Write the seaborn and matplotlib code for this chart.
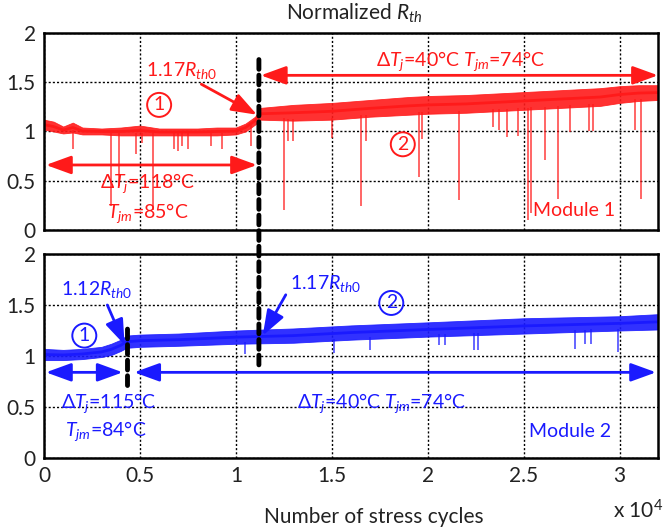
import numpy as np
import pandas as pd
import matplotlib
matplotlib.use('Agg')
import matplotlib.pyplot as plt
from matplotlib.patches import ConnectionPatch
import seaborn as sns

sns.set_theme(style="white")
plt.rcParams['font.family'] = ['Lato', 'DejaVu Sans']
plt.rcParams['mathtext.fontset'] = 'custom'
plt.rcParams['mathtext.rm'] = 'Lato'
plt.rcParams['mathtext.it'] = 'Lato:italic'

# --- Module 1: envelope of the noisy normalized Rth trace ---
m1_cycles = [0, 500, 1000, 1500, 2000, 3000, 4000, 5000, 6000, 7000, 8000, 9000, 10000, 10500, 11000, 11300,
             13000, 15000, 17000, 19000, 20000, 22000, 24000, 25000, 27000, 29000, 30000, 31000, 32000]
m1_low = [1.02, 1.00, 0.98, 0.99, 0.97, 0.97, 0.96, 0.96, 0.96, 0.96, 0.96, 0.96, 0.97, 1.00, 1.07, 1.12,
          1.11, 1.12, 1.15, 1.17, 1.18, 1.19, 1.21, 1.22, 1.24, 1.26, 1.29, 1.31, 1.32]
m1_high = [1.12, 1.10, 1.05, 1.09, 1.04, 1.03, 1.04, 1.06, 1.03, 1.03, 1.03, 1.04, 1.04, 1.08, 1.15, 1.24,
           1.27, 1.29, 1.32, 1.35, 1.36, 1.37, 1.39, 1.40, 1.42, 1.44, 1.46, 1.47, 1.47]
m1_spike_x = [1500, 3500, 3900, 4800, 5100, 5700, 6800, 7000, 7200, 7500, 8700, 9300, 10800,
              12500, 12700, 13000, 15000, 16500, 16800, 19550, 19700, 21650, 23400, 23700, 24150,
              24700, 25250, 25400, 26100, 26800, 27400, 28400, 28600, 30800, 31100]
m1_spike_min = [0.82, 0.24, 0.45, 0.77, 0.88, 0.20, 0.82, 0.80, 0.85, 0.82, 0.85, 0.82, 0.85,
                0.20, 0.90, 0.90, 0.93, 0.24, 0.90, 0.54, 0.92, 0.30, 1.05, 1.02, 0.94,
                0.95, 0.10, 0.17, 0.71, 0.31, 0.99, 1.00, 1.00, 1.02, 0.31]

# --- Module 2 ---
m2_cycles = [0, 1000, 2000, 3000, 3500, 4000, 4300, 5000, 7000, 10000, 13000, 16000, 20000, 25000, 30000, 32000]
m2_low = [0.96, 0.96, 0.97, 0.99, 1.01, 1.05, 1.08, 1.09, 1.10, 1.12, 1.13, 1.16, 1.19, 1.22, 1.25, 1.26]
m2_high = [1.07, 1.06, 1.07, 1.09, 1.12, 1.16, 1.20, 1.21, 1.22, 1.25, 1.27, 1.30, 1.33, 1.37, 1.39, 1.41]
m2_spike_x = [10450, 15100, 17000, 20600, 20900, 22400, 22600, 27700, 28200, 28500, 29900]
m2_spike_min = [1.02, 1.03, 1.06, 1.11, 1.11, 1.06, 1.06, 1.07, 1.12, 1.12, 1.04]

x_ticks = [0, 5000, 10000, 15000, 20000, 25000, 30000]
x_tick_labels = ['0', '0.5', '1', '1.5', '2', '2.5', '3']
y_ticks = [0, 0.5, 1, 1.5, 2]
y_tick_labels = ['0', '0.5', '1', '1.5', '2']

RED = '#ff1a1a'
BLUE = '#1a1aff'

fig = plt.figure(figsize=(6.63, 5.32), dpi=100)
ax1 = fig.add_axes([0.0664, 0.5677, 0.926, 0.3703])
ax2 = fig.add_axes([0.0664, 0.139, 0.926, 0.3836])


def draw_trace(ax, cycles, low, high, spike_x, spike_min, color):
    df = pd.DataFrame({'cycles': cycles + cycles, 'rth': low + high})
    # band = full noise envelope of the measured trace
    sns.lineplot(data=df, x='cycles', y='rth', ax=ax, color=color, errorbar=('pi', 100),
                 err_kws={'alpha': 0.9, 'linewidth': 0.6}, linewidth=2)
    tops = np.interp(spike_x, cycles, low) + 0.02
    ax.vlines(spike_x, spike_min, tops, color=color, lw=1.1, alpha=0.85)


def style_axis(ax, show_x):
    ax.set_xlim(0, 32000)
    ax.set_ylim(0, 2)
    ax.set_xticks(x_ticks)
    ax.set_yticks(y_ticks)
    ax.set_xticklabels(x_tick_labels if show_x else [])
    ax.set_yticklabels(y_tick_labels)
    ax.set_xlabel('')
    ax.set_ylabel('')
    ax.set_axisbelow(True)
    ax.grid(True, color='black', linestyle=(0, (1.5, 1.5)), linewidth=1.0)
    ax.tick_params(length=0, labelsize=15, pad=6, colors='#222222')
    for s in ax.spines.values():
        s.set_color('black')
        s.set_linewidth(1.8)


def double_arrow(ax, x0, x1, y, color):
    ax.annotate('', xy=(x1, y), xytext=(x0, y),
                arrowprops=dict(arrowstyle='<|-|>,head_length=1.1,head_width=0.4', color=color,
                                lw=2, mutation_scale=14, shrinkA=0, shrinkB=0), annotation_clip=False)


def pointer(ax, xy_from, xy_to, color):
    ax.annotate('', xy=xy_to, xytext=xy_from,
                arrowprops=dict(arrowstyle='-|>,head_length=1.1,head_width=0.4', color=color,
                                lw=2, mutation_scale=14, shrinkA=0, shrinkB=0))


def circled(ax, x, y, num, color):
    ax.text(x, y, num, color=color, fontsize=14, ha='center', va='center',
            bbox=dict(boxstyle='circle,pad=0.18', facecolor='none', edgecolor=color, lw=1.4))


draw_trace(ax1, m1_cycles, m1_low, m1_high, m1_spike_x, m1_spike_min, RED)
draw_trace(ax2, m2_cycles, m2_low, m2_high, m2_spike_x, m2_spike_min, BLUE)
style_axis(ax1, False)
style_axis(ax2, True)

fs = 14
# top panel notes
ax1.text(5300, 1.62, '1.17$R_{th0}$', color=RED, fontsize=fs, va='center')
pointer(ax1, (8200, 1.48), (11100, 1.17), RED)
circled(ax1, 6000, 1.27, '1', RED)
circled(ax1, 18700, 0.87, '2', RED)
double_arrow(ax1, 100, 11100, 0.66, RED)
ax1.text(2900, 0.48, 'Δ$T_j$=118°C', color=RED, fontsize=fs, va='center')
ax1.text(3300, 0.17, '$T_{jm}$=85°C', color=RED, fontsize=fs, va='center')
double_arrow(ax1, 11300, 32000, 1.57, RED)
ax1.text(17300, 1.72, 'Δ$T_j$=40°C $T_{jm}$=74°C', color=RED, fontsize=fs, va='center')
ax1.text(25500, 0.2, 'Module 1', color=RED, fontsize=fs, va='center')

# bottom panel notes
ax2.text(900, 1.65, '1.12$R_{th0}$', color=BLUE, fontsize=fs, va='center')
pointer(ax2, (3300, 1.5), (4200, 1.11), BLUE)
circled(ax2, 2100, 1.2, '1', BLUE)
double_arrow(ax2, 100, 4100, 0.84, BLUE)
double_arrow(ax2, 4700, 31900, 0.84, BLUE)
ax2.text(900, 0.54, 'Δ$T_j$=115°C', color=BLUE, fontsize=fs, va='center')
ax2.text(1100, 0.26, '$T_{jm}$=84°C', color=BLUE, fontsize=fs, va='center')
ax2.text(12800, 1.71, '1.17$R_{th0}$', color=BLUE, fontsize=fs, va='center')
pointer(ax2, (12600, 1.6), (11400, 1.2), BLUE)
circled(ax2, 18100, 1.52, '2', BLUE)
ax2.text(13200, 0.54, 'Δ$T_j$=40°C $T_{jm}$=74°C', color=BLUE, fontsize=fs, va='center')
ax2.text(25300, 0.26, 'Module 2', color=BLUE, fontsize=fs, va='center')

# black dashed markers of the test change-over
ax2.plot([4300, 4300], [0.72, 1.32], color='black', lw=3.5, linestyle=(0, (2, 1.2)),
         dash_capstyle='round', zorder=5)
con = ConnectionPatch(xyA=(11200, 1.73), coordsA=ax1.transData, xyB=(11200, 0.86), coordsB=ax2.transData,
                      color='black', lw=3.5, linestyle=(0, (2, 1.2)), capstyle='round', zorder=5)
fig.add_artist(con)

fig.text(0.535, 0.974, 'Normalized $R_{th}$', ha='center', va='center', fontsize=15, color='#222222')
fig.text(0.564, 0.028, 'Number of stress cycles', ha='center', va='center', fontsize=15, color='#222222')
fig.text(0.925, 0.040, 'x $10^4$', ha='left', va='center', fontsize=15, color='#222222')

fig.savefig('out.png', dpi=100)
